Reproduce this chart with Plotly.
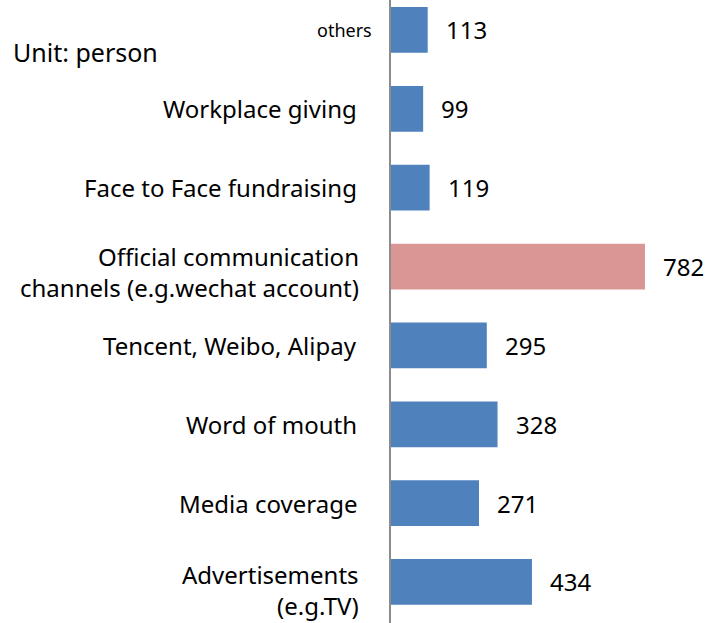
import plotly.graph_objects as go

# Channels, listed bottom to top as drawn on the category axis
channels = [
    "Advertisements<br>(e.g.TV)",
    "Media coverage",
    "Word of mouth",
    "Tencent, Weibo, Alipay",
    "Official communication<br>channels (e.g.wechat account)",
    "Face to Face fundraising",
    "Workplace giving",
    "others",
]
persons = [434, 271, 328, 295, 782, 119, 99, 113]
highlight = "Official communication<br>channels (e.g.wechat account)"

BLUE = "#4F81BD"
PINK = "#D99694"
FONT = "Noto Sans, DejaVu Sans, sans-serif"

colors = [PINK if c == highlight else BLUE for c in channels]

fig = go.Figure(
    go.Bar(
        x=persons,
        y=channels,
        orientation="h",
        marker=dict(color=colors, line=dict(width=0)),
        hoverinfo="skip",
    )
)

annotations = []
for c, v in zip(channels, persons):
    # value label to the right of each bar
    annotations.append(dict(
        x=v, y=c, xref="x", yref="y", text=str(v), showarrow=False,
        xanchor="left", yanchor="middle", xshift=16,
        font=dict(family=FONT, size=24, color="#000000"),
    ))
    # category label to the left of the axis
    if c == "others":
        size, xs, ys = 18, -17, 0
    elif "<br>" in c:
        size, xs, ys = 24, -30, -5 if c == highlight else -8
    else:
        size, xs, ys = 24, -32, 0
    annotations.append(dict(
        x=0, y=c, xref="x", yref="y", text=c, showarrow=False,
        xanchor="right", yanchor="middle", align="right",
        xshift=xs, yshift=ys,
        font=dict(family=FONT, size=size, color="#000000"),
    ))

# unit note in the upper-left corner
annotations.append(dict(
    x=-380 / 315, y=1 - 52 / 623, xref="paper", yref="paper",
    text="Unit: person", showarrow=False, xanchor="left", yanchor="middle",
    font=dict(family=FONT, size=25, color="#000000"),
))

fig.update_layout(
    width=706, height=623,
    margin=dict(l=391, r=0, t=0, b=0),
    paper_bgcolor="white", plot_bgcolor="white",
    bargap=0.42,
    showlegend=False,
    annotations=annotations,
    xaxis=dict(visible=False, range=[0, 970], fixedrange=True),
    yaxis=dict(
        type="category", categoryorder="array", categoryarray=channels,
        range=[-0.52, 7.38], showticklabels=False, ticks="",
        showgrid=False, zeroline=False,
        showline=True, linecolor="#8C8C8C", linewidth=2, mirror=False,
    ),
)

fig.write_html("out.html")
